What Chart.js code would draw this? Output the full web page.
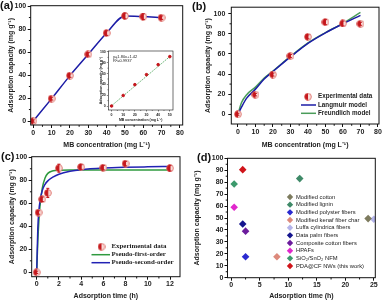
<!DOCTYPE html>
<html>
<head>
<meta charset="utf-8">
<script src="https://cdn.jsdelivr.net/npm/chart.js@4.4.1/dist/chart.umd.min.js"></script>
<style>
    html, body { margin: 0; padding: 0; background: #fff; }
    #wrap { position: relative; width: 384px; height: 303px; overflow: hidden; background: #fff; }
    canvas { position: absolute; display: block; }
</style>
</head>
<body>
<div id="wrap">
    <canvas id="chartA" width="192" height="150" style="left:0;top:0;width:192px;height:150px"></canvas>
    <canvas id="chartB" width="192" height="150" style="left:192px;top:0;width:192px;height:150px"></canvas>
    <canvas id="chartC" width="192" height="153" style="left:0;top:150px;width:192px;height:153px"></canvas>
    <canvas id="chartD" width="192" height="153" style="left:192px;top:150px;width:192px;height:153px"></canvas>
    <canvas id="chartInset" width="80" height="76" style="left:98px;top:46px;width:80px;height:76px"></canvas>
</div>
<script>
// ---- data ----
// (a) isotherm
const mbConc = [0, 10, 20, 30, 40, 50, 60, 70];
const capacityA = [0, 19.5, 39.5, 58, 76.5, 91.4, 90.8, 89.9];
const errorA = [1, 1.2, 1.5, 1.5, 2, 2.5, 2.5, 1.5];
const xTicksA = [0, 10, 20, 30, 40, 50, 60, 70, 80];
const yTicksA = [0, 20, 40, 60, 80, 100];

// (a) inset: linear fit
const insetConc = [0, 10, 20, 30, 40, 50];
const insetCapacity = [0, 19.5, 39.5, 58, 76.5, 91.4];
const insetFitConc = [0, 50];
const insetFitCapacity = [0.5, 91.5];
const insetXTicks = [0, 10, 20, 30, 40, 50];
const insetYTicks = [0, 20, 40, 60, 80, 100];

// (b) isotherm models
const capacityB = [0, 19.5, 39.5, 58, 77, 91.6, 90.3, 90];
const errorB = [1, 1.2, 1.5, 1.5, 2, 2.5, 2.5, 1.5];
const modelConc = [0, 2, 5, 10, 15, 20, 30, 40, 50, 60, 70];
const langmuir = [0, 7, 16, 25, 35, 42.5, 57, 70.5, 81, 90, 98.4];
const freundlich = [0, 11.5, 19.5, 27, 36, 43, 57.5, 71, 81.3, 90.5, 101.3];
const xTicksB = [0, 10, 20, 30, 40, 50, 60, 70, 80];
const yTicksB = [0, 20, 40, 60, 80, 100];

// (c) kinetics
const timeC = [0, 0.17, 0.5, 1, 2, 4, 6, 8, 12];
const capacityC = [0, 52, 63.5, 69, 90.5, 91.5, 91, 94.5, 90.5];
const errorC = [1, 1.5, 2, 4, 3.5, 2, 2, 2, 2.5];
const modelTime = [0, 0.1, 0.2, 0.3, 0.5, 0.75, 1, 1.5, 2, 3, 4, 6, 8, 10, 12];
const firstOrder = [0, 27, 45, 58, 73, 82, 86, 88.3, 88.8, 89, 89, 89, 89, 89, 89];
const secondOrder = [0, 38, 54, 62, 71, 76.5, 79.5, 83, 85.3, 87.8, 89.2, 90.6, 91.3, 91.7, 92];
const xTicksC = [0, 2, 4, 6, 8, 10, 12];
const yTicksC = [0, 20, 40, 60, 80, 100];

// (d) comparison with other adsorbents
const materials = ["Modified cotton", "Modified lignin", "Modified polyster fibers", "Modified kenaf fiber char",
    "Luffa cylindrica fibers", "Data palm fibers", "Composite cotton fibers", "HPAFs", "SiO\u2082/SnO\u2082 NFM",
    "PDA@CF NWs (this work)"];
const materialTime = [24, 12, 2.5, 8, 25, 2, 2.5, 0.5, 0.5, 2];
const materialCapacity = [49.5, 83, 17.5, 17.5, 49, 45, 39, 59, 78.5, 90.5];
const materialColors = ["#7d7b5e", "#3f8a68", "#2a2ad0", "#dd8a7c", "#b4b4ea", "#15158e", "#6b1b9c", "#e028cc", "#3c9a6c", "#d0141a"];
const xTicksD = [0, 5, 10, 15, 20, 25];
const yTicksD = [0, 10, 20, 30, 40, 50, 60, 70, 80, 90, 100];

// ---- shared styles ----
const sans = "'Liberation Sans', Arial, sans-serif";
const serif = "'Liberation Serif', 'Times New Roman', serif";
const ink = "#111";
const blue = "#1c1ca6";
const red = "#c4161c";

const halfMarker = function (size) {
    const c = document.createElement("canvas");
    c.width = size;
    c.height = size;
    const g = c.getContext("2d");
    const m = size / 2;
    const r = m - 0.6;
    g.beginPath();
    g.arc(m, m, r, 0, Math.PI * 2);
    g.fillStyle = "#f8dcd8";
    g.fill();
    g.beginPath();
    g.arc(m, m, r, Math.PI / 2, Math.PI * 1.5);
    g.closePath();
    g.fillStyle = red;
    g.fill();
    g.beginPath();
    g.arc(m, m, r, 0, Math.PI * 2);
    g.strokeStyle = "#d8554f";
    g.lineWidth = 0.7;
    g.stroke();
    return c;
};
const dotImg = halfMarker(8);

const toXY = function (xs, ys) {
    return xs.map(function (x, i) { return { x: x, y: ys[i] }; });
};

const makeAxis = function (cfg) {
    return {
        type: "linear",
        min: cfg.min,
        max: cfg.max,
        afterBuildTicks: function (scale) {
            scale.ticks = cfg.ticks.map(function (v) { return { value: v }; });
        },
        afterFit: function (scale) {
            if (cfg.width != null) scale.width = cfg.width;
            if (cfg.height != null) scale.height = cfg.height;
        },
        grid: { display: true, drawOnChartArea: false, drawTicks: true, tickLength: cfg.tickLength || 3, color: ink, lineWidth: cfg.lw || 1 },
        border: { display: false },
        ticks: { font: { family: sans, size: cfg.fontSize || 7, weight: "bold" }, color: "#222", padding: cfg.tickPad != null ? cfg.tickPad : 1, autoSkip: false, maxRotation: 0 },
        title: { display: !!cfg.title, text: cfg.title, color: "#222", font: { family: sans, size: cfg.titleSize || 7, weight: "bold" }, padding: cfg.titlePad || { top: 0, bottom: 0 } },
    };
};

// frame, minor ticks, panel letter, legend, error bars
const decorPlugin = {
    id: "decor",
    afterDatasetsDraw: function (chart) {
        const ctx = chart.ctx;
        const xs = chart.scales.x;
        const ys = chart.scales.y;
        chart.data.datasets.forEach(function (ds) {
            if (!ds.errors) return;
            ctx.save();
            ctx.strokeStyle = ds.errorColor || red;
            ctx.lineWidth = 1;
            ds.data.forEach(function (p, i) {
                const e = ds.errors[i];
                const px = xs.getPixelForValue(p.x);
                const y1 = ys.getPixelForValue(p.y + e);
                const y2 = ys.getPixelForValue(p.y - e);
                ctx.beginPath();
                ctx.moveTo(px, y1); ctx.lineTo(px, y2);
                ctx.moveTo(px - 1.5, y1); ctx.lineTo(px + 1.5, y1);
                ctx.moveTo(px - 1.5, y2); ctx.lineTo(px + 1.5, y2);
                ctx.stroke();
            });
            ctx.restore();
        });
    },
    afterDraw: function (chart, args, opts) {
        const ctx = chart.ctx;
        const a = chart.chartArea;
        ctx.save();
        ctx.strokeStyle = ink;
        ctx.lineWidth = opts.frameWidth || 1;
        ctx.strokeRect(a.left, a.top, a.right - a.left, a.bottom - a.top);

        // minor ticks half way between majors
        const minorLen = opts.minorLen || 1.8;
        ctx.beginPath();
        ["x", "y"].forEach(function (id) {
            const sc = chart.scales[id];
            const t = sc.ticks.map(function (k) { return k.value; });
            for (let i = 0; i < t.length - 1; i++) {
                const v = (t[i] + t[i + 1]) / 2;
                const p = sc.getPixelForValue(v);
                if (id === "x") { ctx.moveTo(p, a.bottom); ctx.lineTo(p, a.bottom + minorLen); }
                else { ctx.moveTo(a.left, p); ctx.lineTo(a.left - minorLen, p); }
            }
        });
        ctx.stroke();

        if (opts.label) {
            ctx.fillStyle = "#111";
            ctx.font = "bold 11px " + sans;
            ctx.textBaseline = "alphabetic";
            ctx.textAlign = "left";
            ctx.fillText(opts.label, opts.labelX, opts.labelY);
        }

        if (opts.notes) {
            ctx.fillStyle = "#222";
            ctx.font = opts.notesFont;
            ctx.textBaseline = "middle";
            ctx.textAlign = "left";
            opts.notes.forEach(function (n) { ctx.fillText(n.text, n.x, n.y); });
        }

        if (opts.legend) {
            const L = opts.legend;
            ctx.font = L.font;
            ctx.textBaseline = "middle";
            ctx.textAlign = "left";
            L.items.forEach(function (it, i) {
                const y = L.y + i * L.gap;
                if (it.kind === "line") {
                    ctx.strokeStyle = it.color;
                    ctx.lineWidth = 1.5;
                    ctx.beginPath();
                    ctx.moveTo(L.lineX0, y);
                    ctx.lineTo(L.lineX1, y);
                    ctx.stroke();
                } else if (it.kind === "image") {
                    ctx.drawImage(it.image, L.markX - it.image.width / 2, y - it.image.height / 2);
                } else if (it.kind === "diamond") {
                    const r = 3.2;
                    ctx.fillStyle = it.color;
                    ctx.beginPath();
                    ctx.moveTo(L.markX, y - r); ctx.lineTo(L.markX + r, y);
                    ctx.lineTo(L.markX, y + r); ctx.lineTo(L.markX - r, y);
                    ctx.closePath();
                    ctx.fill();
                }
                ctx.fillStyle = "#222";
                ctx.fillText(it.text, L.textX, y);
            });
        }
        ctx.restore();
    },
};

const baseOptions = function (pad, x, y, decor) {
    return {
        responsive: false,
        animation: false,
        layout: { padding: pad },
        plugins: { legend: { display: false }, tooltip: { enabled: false }, decor: decor },
        scales: { x: makeAxis(x), y: makeAxis(y) },
    };
};

// ---- (a) ----
new Chart(document.getElementById("chartA").getContext("2d"), {
    type: "line",
    data: {
        datasets: [
            { data: toXY(mbConc, capacityA), errors: errorA, showLine: false, pointStyle: dotImg, order: 0 },
            { data: toXY(mbConc, capacityA), borderColor: blue, borderWidth: 1.5, pointRadius: 0, cubicInterpolationMode: "monotone", order: 1 },
        ],
    },
    options: baseOptions(
        { top: 4.7, right: 9.3, left: 0, bottom: 0 },
        { min: -1.42, max: 81.5, ticks: xTicksA, height: 25, tickPad: 0.5, title: "MB concentration (mg L\u207B\u00B9)", titlePad: { top: 0, bottom: 0.8 } },
        { min: -3.45, max: 100.3, ticks: yTicksA, width: 30.7, tickPad: 1.5, title: "Adsorption capacity (mg g\u207B\u00B9)", titlePad: { top: 6.8, bottom: 0 } },
        { label: "(a)", labelX: 0, labelY: 9 }
    ),
    plugins: [decorPlugin],
});

// ---- (a) inset ----
new Chart(document.getElementById("chartInset").getContext("2d"), {
    type: "line",
    data: {
        datasets: [
            { data: toXY(insetConc, insetCapacity), showLine: false, pointStyle: "circle", pointRadius: 1.3, backgroundColor: red, borderColor: red, order: 0 },
            { data: toXY(insetFitConc, insetFitCapacity), borderColor: "#3fa04f", borderWidth: 0.8, borderDash: [1.5, 1], pointRadius: 0, order: 1 },
        ],
    },
    options: baseOptions(
        { top: 4.7, right: 3, left: 0, bottom: 0 },
        { min: -2.8, max: 52.75, ticks: insetXTicks, height: 12, fontSize: 3.5, tickLength: 1.5, lw: 0.5, title: "MB concentration (mg L\u207B\u00B9)", titleSize: 3.5 },
        { min: -7.4, max: 101.8, ticks: insetYTicks, width: 10.3, fontSize: 3.5, tickLength: 1.5, lw: 0.5, title: "Adsorption capacity (mg g\u207B\u00B9)", titleSize: 3.5, titlePad: { top: 1, bottom: 0 } },
        { frameWidth: 0.6, minorLen: 0.8, notesFont: "4px " + sans, notes: [{ text: "y=1.80x+1.42", x: 15, y: 10.5 }, { text: "R\u00B2=0.9937", x: 15, y: 15 }] }
    ),
    plugins: [decorPlugin, {
        id: "bg",
        beforeDraw: function (chart) {
            chart.ctx.save();
            chart.ctx.fillStyle = "#fff";
            chart.ctx.fillRect(0, 0, chart.width, chart.height);
            chart.ctx.restore();
        },
    }],
});

// ---- (b) ----
new Chart(document.getElementById("chartB").getContext("2d"), {
    type: "line",
    data: {
        datasets: [
            { data: toXY(mbConc, capacityB), errors: errorB, showLine: false, pointStyle: dotImg, order: 0 },
            { data: toXY(modelConc, langmuir), borderColor: blue, borderWidth: 1.5, pointRadius: 0, cubicInterpolationMode: "monotone", order: 1 },
            { data: toXY(modelConc, freundlich), borderColor: "#4a9c5a", borderWidth: 1.5, pointRadius: 0, cubicInterpolationMode: "monotone", order: 2 },
        ],
    },
    options: baseOptions(
        { top: 4, right: 4, left: 0, bottom: 0 },
        { min: -3.8, max: 80.6, ticks: xTicksB, height: 26, tickPad: 0.5, title: "MB concentration (mg L\u207B\u00B9)", titlePad: { top: 0, bottom: 0.8 } },
        { min: -9.7, max: 106.5, ticks: yTicksB, width: 39.3, tickPad: 3, title: "Adsorption capacity (mg g\u207B\u00B9)", titlePad: { top: 11.8, bottom: 0 } },
        {
            label: "(b)", labelX: 0, labelY: 10,
            legend: {
                font: "bold 6.3px " + sans, y: 96.7, gap: 8.3, lineX0: 109, lineX1: 124, markX: 116, textX: 126,
                items: [
                    { kind: "image", image: dotImg, text: "Experimental data" },
                    { kind: "line", color: blue, text: "Langmuir model" },
                    { kind: "line", color: "#4a9c5a", text: "Freundlich model" },
                ],
            },
        }
    ),
    plugins: [decorPlugin],
});

// ---- (c) ----
new Chart(document.getElementById("chartC").getContext("2d"), {
    type: "line",
    data: {
        datasets: [
            { data: toXY(timeC, capacityC), errors: errorC, showLine: false, pointStyle: dotImg, order: 0 },
            { data: toXY(modelTime, firstOrder), borderColor: "#2f9a3f", borderWidth: 1.5, pointRadius: 0, cubicInterpolationMode: "monotone", order: 2 },
            { data: toXY(modelTime, secondOrder), borderColor: "#2222b4", borderWidth: 1.5, pointRadius: 0, cubicInterpolationMode: "monotone", order: 1 },
        ],
    },
    options: baseOptions(
        { top: 6.7, right: 12, left: 0, bottom: 0 },
        { min: -0.45, max: 12.9, ticks: xTicksC, height: 26.3, tickPad: 0.5, title: "Adsorption time (h)", titlePad: { top: 0, bottom: 3 } },
        { min: -3.8, max: 100.5, ticks: yTicksC, width: 31.7, tickPad: 1.5, title: "Adsorption capacity (mg g\u207B\u00B9)", titlePad: { top: 8.3, bottom: 0 } },
        {
            label: "(c)", labelX: 1, labelY: 10,
            legend: {
                font: "bold 6.9px " + serif, y: 96.7, gap: 8, lineX0: 91.5, lineX1: 110, markX: 101.5, textX: 111.5,
                items: [
                    { kind: "image", image: dotImg, text: "Experimental data" },
                    { kind: "line", color: "#2f9a3f", text: "Pseudo-first-order" },
                    { kind: "line", color: "#2222b4", text: "Pseudo-second-order" },
                ],
            },
        }
    ),
    plugins: [decorPlugin],
});

// ---- (d) ----
new Chart(document.getElementById("chartD").getContext("2d"), {
    type: "scatter",
    data: {
        datasets: materials.map(function (name, i) {
            return {
                label: name,
                data: [{ x: materialTime[i], y: materialCapacity[i] }],
                pointStyle: "rectRot",
                pointRadius: 3.8,
                backgroundColor: materialColors[i],
                borderColor: materialColors[i],
                borderWidth: 0,
            };
        }),
    },
    options: baseOptions(
        { top: 8.3, right: 8.7, left: 0, bottom: 0 },
        { min: -0.67, max: 25.26, ticks: xTicksD, height: 25.3, tickPad: 0.5, title: "Adsorption time (h)", titlePad: { top: 0, bottom: 3 } },
        { min: 0, max: 100, ticks: yTicksD, width: 35.5, tickLength: 3, tickPad: 1, title: "Adsorption capacity (mg g\u207B\u00B9)", titlePad: { top: 1, bottom: 0 } },
        {
            label: "(d)", labelX: 5, labelY: 11,
            legend: {
                font: "5.8px " + sans, y: 47, gap: 7.67, markX: 98, textX: 104,
                items: materials.map(function (name, i) { return { kind: "diamond", color: materialColors[i], text: name }; }),
            },
        }
    ),
    plugins: [decorPlugin],
});
</script>
</body>
</html>
